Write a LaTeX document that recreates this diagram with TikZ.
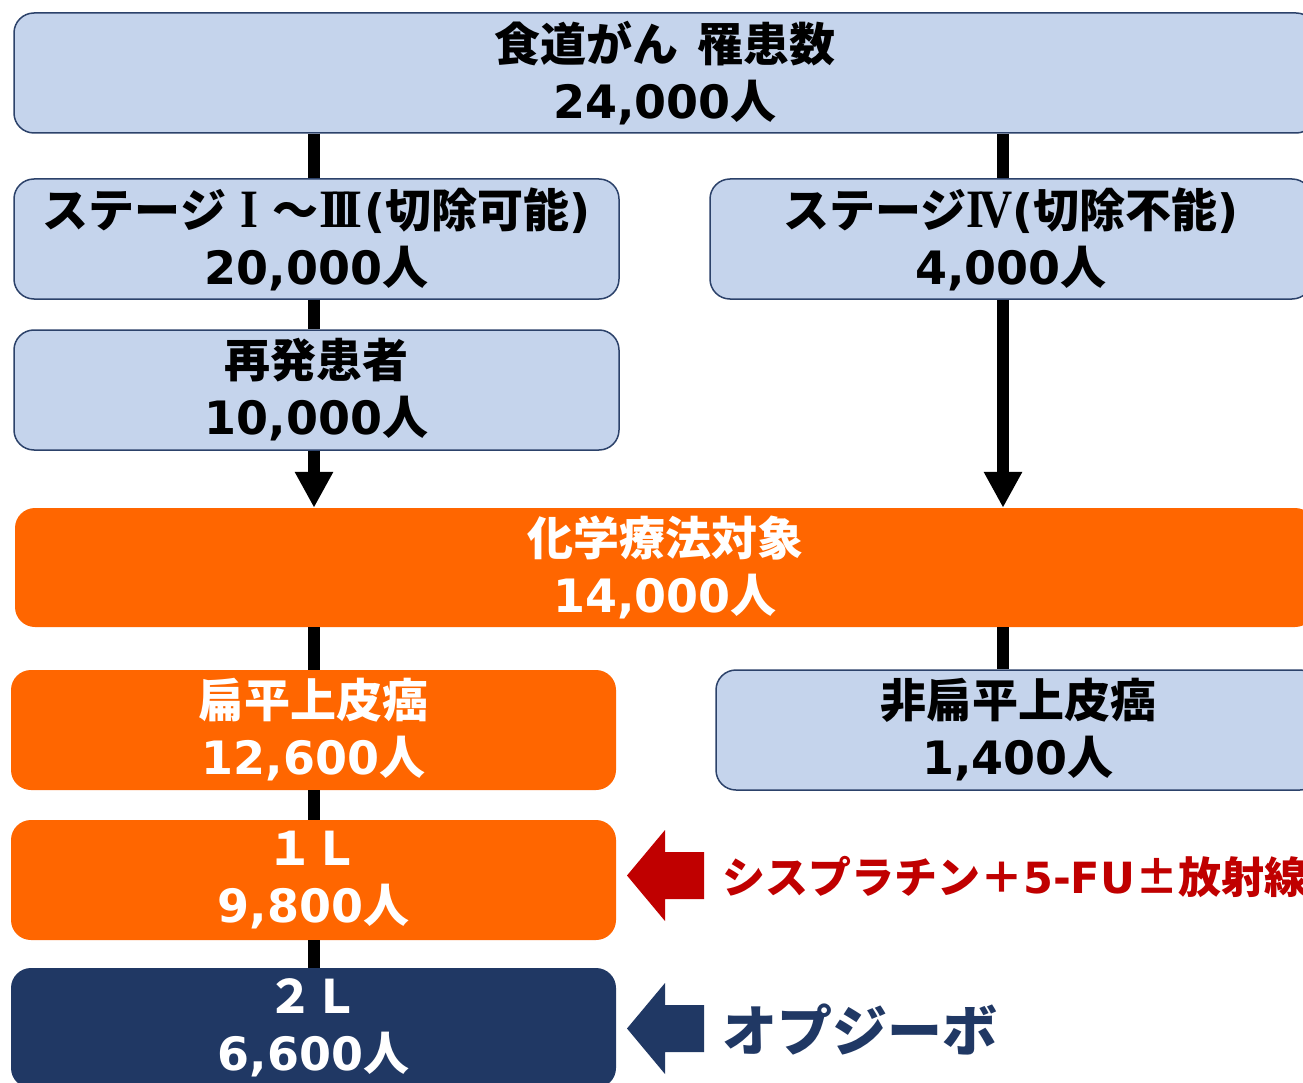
\documentclass[tikz,border=0pt]{standalone}
\usepackage{fontspec}
\usepackage{graphicx}
\setmainfont{DejaVu Sans}
\newfontfamily\jp{Noto Sans CJK JP}
\newfontfamily\lt{DejaVu Sans}
\newfontfamily\rmnf{Liberation Serif}
\usetikzlibrary{arrows.meta}
\definecolor{boxblue}{RGB}{197,212,236}
\definecolor{boxline}{RGB}{44,66,106}
\definecolor{boxorange}{RGB}{255,102,0}
\definecolor{boxnavy}{RGB}{32,56,100}
\definecolor{txtred}{RGB}{192,0,0}
\newcommand{\jtx}[1]{{\jp #1}}
\newcommand{\ltx}[1]{{\lt #1}}
\newcommand{\rn}[2]{\makebox[1em]{\rmnf\bfseries\fontsize{54}{57}\selectfont\scalebox{#1}[1]{#2}}}
\begin{document}
\begin{tikzpicture}[x=1pt,y=-1pt,
  box/.style={rounded corners=20pt, minimum height=120pt, inner sep=0pt, align=center,
    font=\bfseries\fontsize{46}{57}\selectfont},
  bluebox/.style={box, fill=boxblue, draw=boxline, line width=1.5pt, text=black},
  orangebox/.style={box, fill=boxorange, text=white},
  navybox/.style={box, fill=boxnavy, text=white},
  conn/.style={line width=12pt, draw=black},
  arr/.style={conn, -{Triangle[width=36pt,length=36pt]}},
  drugtext/.style={anchor=west, inner sep=0pt}
]
\useasboundingbox (0,0) rectangle (1303,1083);
\clip (0,0) rectangle (1303,1083);
\fill[white] (0,0) rectangle (1303,1083);

\node[bluebox, minimum width=1302pt] (top) at (665,73)
  {\jtx{食道がん}\hspace{0.4em}\jtx{罹患数}\\\ltx{24,000}\jtx{人}};
\node[bluebox, minimum width=605pt] (s13) at (316.5,239)
  {\jtx{ステージ}\rn{0.85}{I}\jtx{～}\rn{0.95}{I\kern-0.17em I\kern-0.17em I}\ltx{(}\jtx{切除可能}\ltx{)}\\\ltx{20,000}\jtx{人}};
\node[bluebox, minimum width=602pt] (s4) at (1011,239)
  {\jtx{ステージ}\rn{0.85}{I\kern-0.1em V}\ltx{(}\jtx{切除不能}\ltx{)}\\\ltx{4,000}\jtx{人}};
\node[bluebox, minimum width=605pt] (rec) at (316.5,390)
  {\jtx{再発患者}\\\ltx{10,000}\jtx{人}};
\node[orangebox, minimum width=1300pt, minimum height=119pt] (chemo) at (665,567.5)
  {\jtx{化学療法対象}\\\ltx{14,000}\jtx{人}};
\node[orangebox, minimum width=605pt] (sq) at (313.5,730)
  {\jtx{扁平上皮癌}\\\ltx{12,600}\jtx{人}};
\node[bluebox, minimum width=604pt] (nsq) at (1018,730)
  {\jtx{非扁平上皮癌}\\\ltx{1,400}\jtx{人}};
\node[orangebox, minimum width=605pt] (l1) at (313.5,880)
  {\jtx{１Ｌ}\\\ltx{9,800}\jtx{人}};
\node[navybox, minimum width=605pt] (l2) at (313.5,1028)
  {\jtx{２Ｌ}\\\ltx{6,600}\jtx{人}};

\coordinate (cL) at (314,0);
\coordinate (cR) at (1003,0);
\draw[conn] (cL |- top.south) -- (cL |- s13.north);
\draw[conn] (cR |- top.south) -- (cR |- s4.north);
\draw[conn] (cL |- s13.south) -- (cL |- rec.north);
\draw[arr] (cL |- rec.south) -- (cL |- chemo.north);
\draw[arr] (cR |- s4.south) -- (cR |- chemo.north);
\draw[conn] (cL |- chemo.south) -- (cL |- sq.north);
\draw[conn] (cR |- chemo.south) -- (cR |- nsq.north);
\draw[conn] (cL |- sq.south) -- (cL |- l1.north);
\draw[conn] (cL |- l1.south) -- (cL |- l2.north);

\fill[txtred] (627,875.5) -- (665,830) -- (665,852) -- (704,852) -- (704,899) -- (665,899) -- (665,921) -- cycle;
\fill[boxnavy] (627,1028.5) -- (665,983) -- (665,1005) -- (704,1005) -- (704,1052) -- (665,1052) -- (665,1074) -- cycle;

\node[drugtext, text=txtred, font=\bfseries\fontsize{43}{50}\selectfont] (drug1) at (722,877)
  {\jtx{シスプラチン＋}\ltx{5-FU}\jtx{±放射線}};
\node[drugtext, text=boxnavy, font=\bfseries\fontsize{55}{60}\selectfont] (drug2) at (722,1030)
  {\jtx{オプジーボ}};
\end{tikzpicture}
\end{document}
